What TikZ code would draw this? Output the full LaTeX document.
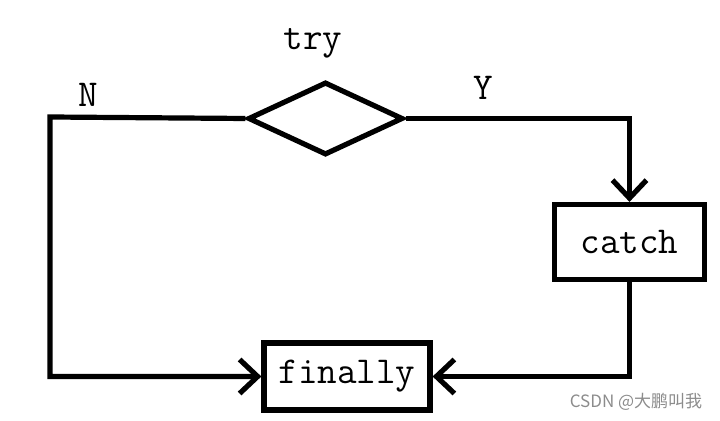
\documentclass[tikz,border=0pt]{standalone}
\usepackage{fontspec}
\usepackage{tikz}
\usetikzlibrary{shapes.geometric, arrows.meta, positioning}
\newfontfamily\cjk{Noto Sans CJK SC}
\tikzstyle{block} = [rectangle, minimum width=75pt, minimum height=37.5pt, inner sep=0pt, text centered, draw=black, line width=2.6pt, font=\fontsize{19}{23}\selectfont\ttfamily]
\tikzstyle{decision} = [diamond, minimum width=77.5pt, minimum height=36.5pt, inner sep=0pt, draw=black, line width=2.6pt]
\tikzstyle{flow} = [line width=2.6pt, -{Straight Barb[length=9pt, width=17pt]}]
\tikzstyle{lbl} = [font=\fontsize{19}{23}\selectfont\ttfamily]

\begin{document}
\begin{tikzpicture}[x=0.5pt, y=-0.5pt]
        \useasboundingbox (0,0) rectangle (720,421);
        \node (try) [decision] at (325.5,118.5) {};
        \node (catch) [block] at (629.5,242) {catch};
        \node (finally) [block, minimum width=83pt, minimum height=33.5pt] at (347,376.5) {finally};
        \coordinate (nw) at (50,117);

        \node (trylbl) [lbl] at (313,43) {try};
        \node (nlbl) [lbl] at (88,95) {N};
        \node (ylbl) [lbl] at (483,88) {Y};

        \draw [flow] (try.west) -- (nw) |- (finally.west);
        \draw [flow] (try.east) -| (catch.north);
        \draw [flow] (catch.south) |- (finally.east);

        % watermark
        \node (mark) [text=black!45, font=\cjk\fontsize{8.5}{10}\selectfont] at (636,402) {CSDN @大鹏叫我};
\end{tikzpicture}
\end{document}
